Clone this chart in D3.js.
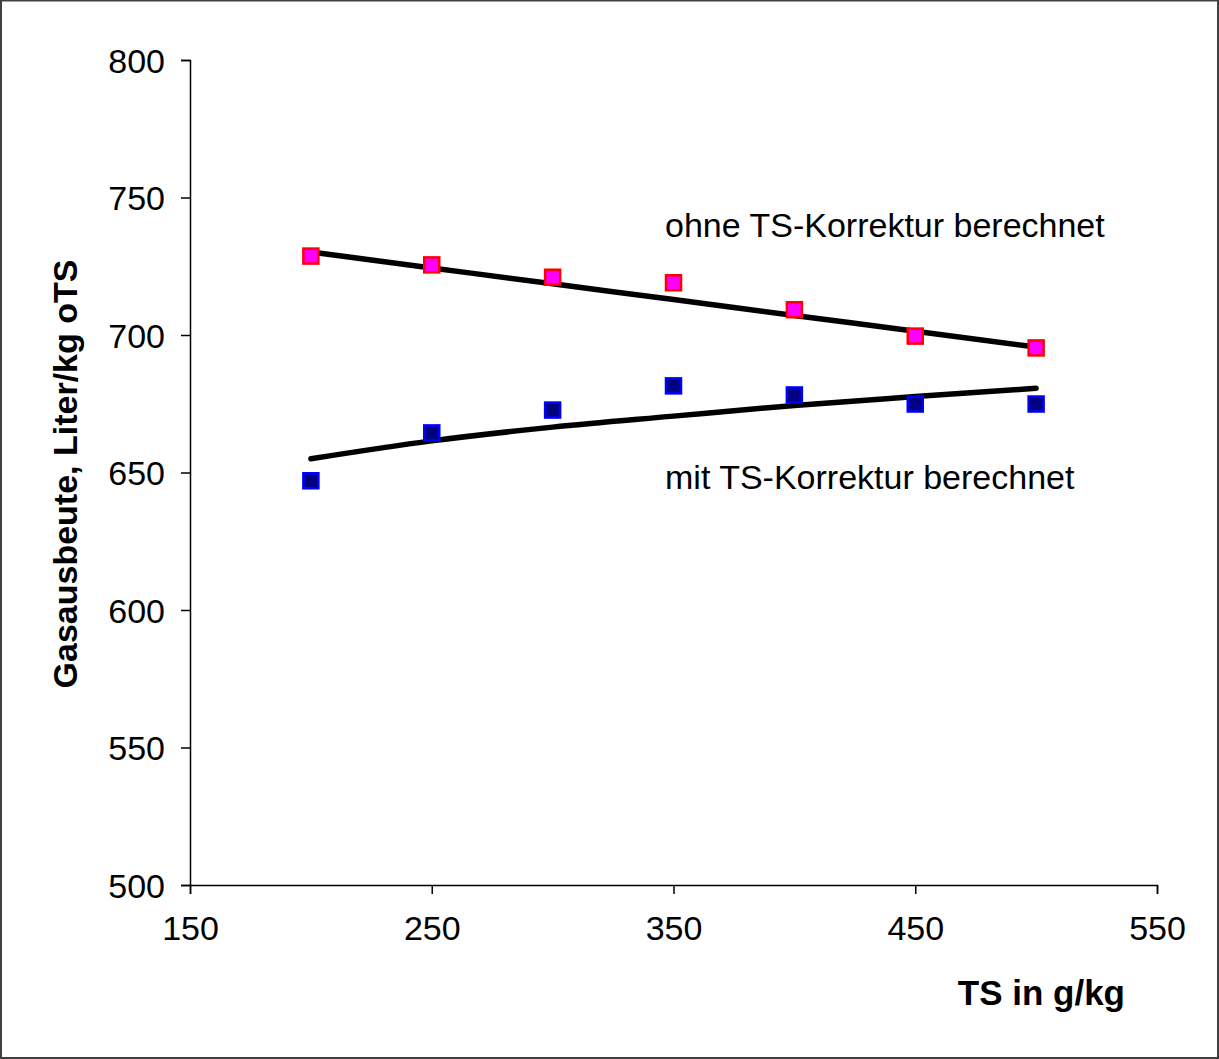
<!DOCTYPE html>
<html>
<head>
<meta charset="utf-8">
<script src="https://cdn.jsdelivr.net/npm/d3@7"></script>
<style>
  html, body { margin: 0; padding: 0; background: #fff; }
  svg { display: block; font-family: "Liberation Sans", Arial, sans-serif; }
</style>
</head>
<body>
<div id="chart"></div>
<script>
// Data
const tsValues = [200, 250, 300, 350, 400, 450, 500];
const ohneKorrektur = [728.7, 725.5, 721.0, 719.0, 709.2, 699.6, 695.3];
const mitKorrektur = [647.0, 664.4, 672.7, 681.5, 678.2, 674.9, 674.9];
// trend lines as they appear in the picture
const ohneTrend = [730.2, 724.4, 718.6, 712.9, 707.1, 701.4, 695.6];
const mitTrend = [655.0, 661.5, 666.5, 670.5, 674.4, 677.6, 680.6];
const xTicks = [150, 250, 350, 450, 550];
const yTicks = [500, 550, 600, 650, 700, 750, 800];

const width = 1219, height = 1059;
const margin = { top: 60, right: 62, bottom: 174, left: 190 };
const plotW = width - margin.left - margin.right;
const plotH = height - margin.top - margin.bottom;

const svg = d3.select("#chart")
    .append("svg")
    .attr("width", width)
    .attr("height", height);

// outer frame
svg.append("rect")
    .attr("x", 1).attr("y", 0.5)
    .attr("width", width - 2).attr("height", height - 1.5)
    .attr("fill", "none")
    .attr("stroke", "#404040")
    .attr("stroke-width", 2);

const g = svg.append("g")
    .attr("transform", `translate(${margin.left},${margin.top})`);

const x = d3.scaleLinear().domain([150, 550]).range([0, plotW]);
const y = d3.scaleLinear().domain([500, 800]).range([plotH, 0]);

const xAxis = d3.axisBottom(x).tickValues(xTicks).tickSize(9).tickPadding(24).tickFormat(d3.format("d"));
const yAxis = d3.axisLeft(y).tickValues(yTicks).tickSize(9).tickPadding(16).tickFormat(d3.format("d"));

const gx = g.append("g")
    .attr("transform", `translate(0,${plotH})`)
    .call(xAxis);
const gy = g.append("g").call(yAxis);

[gx, gy].forEach(a => {
    a.select(".domain").attr("stroke", "#000").attr("stroke-width", 1.5);
    a.selectAll(".tick line").attr("stroke", "#000").attr("stroke-width", 1.5);
    a.selectAll(".tick text")
        .attr("fill", "#000")
        .style("font-size", "34px")
        .style("font-family", "'Liberation Sans', Arial, sans-serif");
});
gy.selectAll(".tick text").attr("dy", "0.36em");
gx.selectAll(".tick text").attr("dy", "0.66em");

// trend lines
const line = d3.line()
    .x((d, i) => x(tsValues[i]))
    .y(d => y(d))
    .curve(d3.curveMonotoneX);

g.append("path")
    .datum(ohneTrend)
    .attr("d", line)
    .attr("fill", "none")
    .attr("stroke", "#000")
    .attr("stroke-width", 5.5)
    .attr("stroke-linecap", "round");

g.append("path")
    .datum(mitTrend)
    .attr("d", line)
    .attr("fill", "none")
    .attr("stroke", "#000")
    .attr("stroke-width", 5.5)
    .attr("stroke-linecap", "round");

// markers
const size = 15;
g.selectAll(".m-ohne")
    .data(ohneKorrektur)
    .enter().append("rect")
    .attr("class", "m-ohne")
    .attr("x", (d, i) => x(tsValues[i]) - size / 2)
    .attr("y", d => y(d) - size / 2)
    .attr("width", size).attr("height", size)
    .attr("fill", "#ff00ff")
    .attr("stroke", "#ff0000")
    .attr("stroke-width", 2.5);

g.selectAll(".m-mit")
    .data(mitKorrektur)
    .enter().append("rect")
    .attr("class", "m-mit")
    .attr("x", (d, i) => x(tsValues[i]) - size / 2)
    .attr("y", d => y(d) - size / 2)
    .attr("width", size).attr("height", size)
    .attr("fill", "#000080")
    .attr("stroke", "#0000ff")
    .attr("stroke-width", 2.5);

// series labels
g.append("text")
    .attr("x", 665 - margin.left)
    .attr("y", 237 - margin.top)
    .style("font-size", "34px")
    .text("ohne TS-Korrektur berechnet");

g.append("text")
    .attr("x", 665 - margin.left)
    .attr("y", 489 - margin.top)
    .style("font-size", "34px")
    .text("mit TS-Korrektur berechnet");

// axis titles
svg.append("text")
    .attr("x", 1125)
    .attr("y", 1005)
    .attr("text-anchor", "end")
    .style("font-size", "35px")
    .style("font-weight", "bold")
    .text("TS in g/kg");

svg.append("text")
    .attr("transform", `translate(77,${474}) rotate(-90)`)
    .attr("text-anchor", "middle")
    .style("font-size", "34px")
    .style("font-weight", "bold")
    .text("Gasausbeute, Liter/kg oTS");
</script>
</body>
</html>
